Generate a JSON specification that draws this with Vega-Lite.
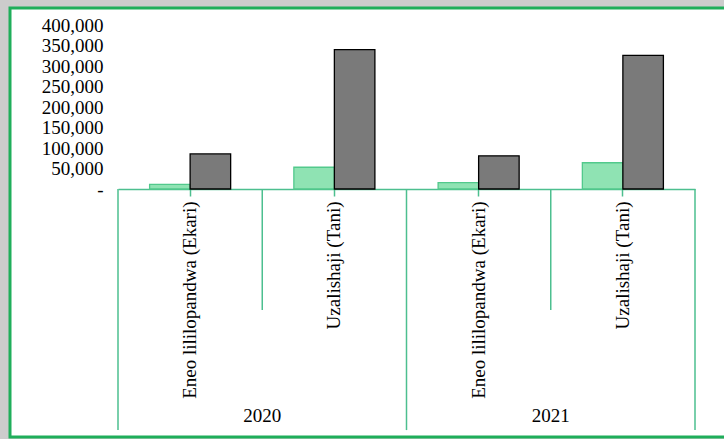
{
  "$schema": "https://vega.github.io/schema/vega-lite/v6.json",
  "autosize": {"type": "none"},
  "width": 720,
  "height": 429,
  "padding": {"left": 10, "top": 8, "right": 0, "bottom": 2},
  "background": "#cccccc",
  "config": {
    "view": {"stroke": "#1fae5a", "strokeWidth": 3, "fill": "white"},
    "font": "Liberation Serif"
  },
  "data": {
    "values": [
      {"year": "2020", "category": "Eneo lililopandwa (Ekari)", "key": "2020|Eneo lililopandwa (Ekari)", "series": "Mfululizo 1", "value": 11500},
      {"year": "2020", "category": "Eneo lililopandwa (Ekari)", "key": "2020|Eneo lililopandwa (Ekari)", "series": "Mfululizo 2", "value": 85500},
      {"year": "2020", "category": "Uzalishaji (Tani)", "key": "2020|Uzalishaji (Tani)", "series": "Mfululizo 1", "value": 53000},
      {"year": "2020", "category": "Uzalishaji (Tani)", "key": "2020|Uzalishaji (Tani)", "series": "Mfululizo 2", "value": 340000},
      {"year": "2021", "category": "Eneo lililopandwa (Ekari)", "key": "2021|Eneo lililopandwa (Ekari)", "series": "Mfululizo 1", "value": 15500},
      {"year": "2021", "category": "Eneo lililopandwa (Ekari)", "key": "2021|Eneo lililopandwa (Ekari)", "series": "Mfululizo 2", "value": 81000},
      {"year": "2021", "category": "Uzalishaji (Tani)", "key": "2021|Uzalishaji (Tani)", "series": "Mfululizo 1", "value": 64000},
      {"year": "2021", "category": "Uzalishaji (Tani)", "key": "2021|Uzalishaji (Tani)", "series": "Mfululizo 2", "value": 326000}
    ]
  },
  "layer": [
    {
      "mark": {"type": "bar", "strokeWidth": 1.3},
      "encoding": {
        "x": {
          "field": "key", "type": "nominal", "sort": null,
          "scale": {
            "domain": ["2020|Eneo lililopandwa (Ekari)", "2020|Uzalishaji (Tani)", "2021|Eneo lililopandwa (Ekari)", "2021|Uzalishaji (Tani)"],
            "range": [108, 685], "paddingInner": 0, "paddingOuter": 0
          },
          "axis": {
            "title": null, "labelAngle": -90,
            "labelExpr": "split(datum.value, '|')[1]",
            "labelFontSize": 19, "labelColor": "black", "labelLimit": 400,
            "labelFont": "Liberation Serif",
            "tickColor": "#4dbf8f", "tickSize": 7, "tickWidth": 1.5,
            "domainColor": "#4dbf8f", "domainWidth": 1.5,
            "labelPadding": 5, "offset": -248, "grid": false
          }
        },
        "xOffset": {"field": "series", "type": "nominal", "scale": {"paddingOuter": 0.78, "paddingInner": 0}},
        "y": {
          "field": "value", "type": "quantitative",
          "scale": {"domain": [0, 400000], "range": [181, 17]},
          "axis": {
            "title": null, "values": [0, 50000, 100000, 150000, 200000, 250000, 300000, 350000, 400000],
            "labelExpr": "datum.value == 0 ? '-' : format(datum.value, ',')",
            "domain": false, "ticks": false, "grid": false,
            "labelPadding": 15, "offset": -108,
            "labelFontSize": 19, "labelColor": "black", "labelFont": "Liberation Serif"
          }
        },
        "fill": {"field": "series", "type": "nominal", "scale": {"domain": ["Mfululizo 1", "Mfululizo 2"], "range": ["#8fe3b3", "#7a7a7a"]}, "legend": null},
        "stroke": {"field": "series", "type": "nominal", "scale": {"domain": ["Mfululizo 1", "Mfululizo 2"], "range": ["#52c98c", "#000000"]}, "legend": null}
      }
    },
    {
      "transform": [{"filter": "datum.series == 'Mfululizo 1' && indexof(datum.category, 'Eneo') >= 0"}],
      "mark": {"type": "rule", "color": "#4dbf8f", "strokeWidth": 1.5},
      "encoding": {
        "x": {"field": "key", "type": "nominal", "sort": null, "bandPosition": 0},
        "y": {"datum": 0, "type": "quantitative"},
        "y2": {"datum": -588000}
      }
    },
    {
      "transform": [{"filter": "datum.series == 'Mfululizo 1' && datum.key == '2021|Uzalishaji (Tani)'"}],
      "mark": {"type": "rule", "color": "#4dbf8f", "strokeWidth": 1.5},
      "encoding": {
        "x": {"field": "key", "type": "nominal", "sort": null, "bandPosition": 1},
        "y": {"datum": 0, "type": "quantitative"},
        "y2": {"datum": -588000}
      }
    },
    {
      "transform": [{"filter": "datum.series == 'Mfululizo 1' && indexof(datum.category, 'Uzalishaji') >= 0"}],
      "mark": {"type": "rule", "color": "#4dbf8f", "strokeWidth": 1.5},
      "encoding": {
        "x": {"field": "key", "type": "nominal", "sort": null, "bandPosition": 0},
        "y": {"datum": 0, "type": "quantitative"},
        "y2": {"datum": -295000}
      }
    },
    {
      "transform": [{"filter": "datum.series == 'Mfululizo 1' && indexof(datum.category, 'Uzalishaji') >= 0"}],
      "mark": {"type": "text", "fontSize": 19, "font": "Liberation Serif", "color": "black", "align": "center", "baseline": "middle"},
      "encoding": {
        "x": {"field": "key", "type": "nominal", "sort": null, "bandPosition": 0},
        "y": {"datum": -553700, "type": "quantitative"},
        "text": {"field": "year"}
      }
    }
  ]
}
